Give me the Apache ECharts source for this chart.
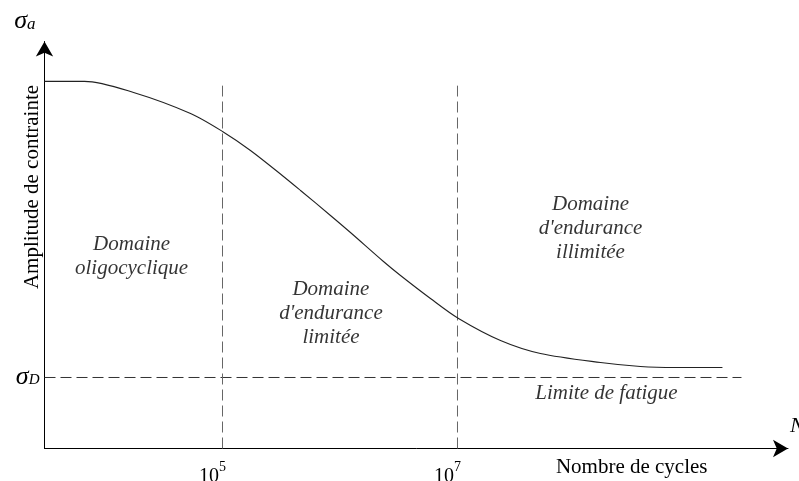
<!DOCTYPE html>
<html>
<head>
<meta charset="utf-8">
<script src="https://cdn.jsdelivr.net/npm/echarts@6/dist/echarts.min.js"></script>
<style>
  html, body { margin: 0; padding: 0; background: #fff; }
  #chart { width: 799px; height: 481px; }
</style>
</head>
<body>
<div id="chart"></div>
<script>
// Wöhler (S-N) curve: stress amplitude against log10 of the number of cycles
const logCycles = [3.485, 3.826, 4.243, 4.728, 5.0, 5.238, 5.519, 5.664, 5.919, 6.089, 6.37, 6.515, 6.77, 7.009, 7.366, 7.706, 8.217, 8.557, 8.855, 9.255];
const stressAmp = [517, 517, 501.4, 471.8, 446.5, 419.7, 383.1, 363.4, 328.2, 304.2, 263.4, 243.7, 211.3, 183.1, 152.1, 133.8, 121.1, 115.5, 114.1, 114.1];

// endurance limit σD and where its dashed line stops
const enduranceLimit = 100;
const enduranceLineEnd = 9.417;

// domain boundaries at 10^5 and 10^7 cycles, and the height they reach
const domainBounds = [5, 7];
const boundTop = 511;

// exponents shown under the N axis
const tickExponents = [5, 7];

// axis ranges
const xMin = 3.485, xMax = 9.813;
const yMin = 0, yMax = 573.2;

// domain captions and their anchor points (log N, σ)
const regionLabels = ['Domaine\noligocyclique', "Domaine\nd'endurance\nlimitée", "Domaine\nd'endurance\nillimitée", 'Limite de fatigue'];
const regionX = [4.226, 5.923, 8.132, 8.268];
const regionY = [270.4, 190, 309.9, 77.5];

const serif = "'Liberation Serif', 'Times New Roman', serif";
const ink = '#000';

const chart = echarts.init(document.getElementById('chart'), null, { renderer: 'canvas' });

const series = [
  {
    type: 'line',
    data: logCycles.map((x, i) => [x, stressAmp[i]]),
    smooth: 0.3,
    symbol: 'none',
    lineStyle: { color: '#222', width: 1.1 },
    silent: true,
    z: 5
  },
  {
    type: 'line',
    data: [[xMin, enduranceLimit], [enduranceLineEnd, enduranceLimit]],
    symbol: 'none',
    lineStyle: { color: '#333', width: 1, type: [11, 5] },
    silent: true
  }
];

domainBounds.forEach(b => {
  series.push({
    type: 'line',
    data: [[b, yMin], [b, boundTop]],
    symbol: 'none',
    lineStyle: { color: '#666', width: 1, type: [11, 5] },
    silent: true
  });
});

series.push({
  type: 'scatter',
  symbolSize: 0,
  data: regionLabels.map((t, i) => ({ name: t, value: [regionX[i], regionY[i]] })),
  label: {
    show: true,
    position: 'inside',
    formatter: p => p.name,
    fontFamily: serif,
    fontStyle: 'italic',
    fontSize: 21,
    lineHeight: 24,
    align: 'center',
    color: ink
  },
  silent: true,
  z: 10
});

// σ with an italic index set on its baseline
const sigmaRich = (key, size) => ({
  g: { fontFamily: serif, fontStyle: 'italic', fontSize: 26, color: ink, verticalAlign: 'middle', lineHeight: 26 },
  [key]: { fontFamily: serif, fontStyle: 'italic', fontSize: size, color: ink, verticalAlign: 'middle', lineHeight: 26, padding: [6, 0, 0, 0] }
});

chart.setOption({
  animation: false,
  backgroundColor: '#fff',
  grid: { left: 44.5, right: 11, top: 41.5, bottom: 32.5, containLabel: false, outerBoundsMode: 'none' },
  xAxis: [
    {
      type: 'value', min: xMin, max: xMax,
      axisLine: { show: true, symbol: ['none', 'arrow'], symbolSize: [13, 15], lineStyle: { color: '#000', width: 1 } },
      axisTick: { show: false },
      splitLine: { show: false },
      axisLabel: {
        customValues: tickExponents,
        margin: 12,
        padding: [0, 20, 0, 0],
        formatter: v => '{b|10}{s|' + v + '}',
        rich: {
          b: { fontFamily: serif, fontSize: 20, lineHeight: 26, verticalAlign: 'bottom', color: ink },
          s: { fontFamily: serif, fontSize: 14, lineHeight: 14, verticalAlign: 'top', color: ink }
        }
      },
      name: 'N', nameLocation: 'end', nameGap: 2,
      nameTextStyle: { fontFamily: serif, fontStyle: 'italic', fontSize: 22, color: ink, align: 'left', verticalAlign: 'bottom', padding: [0, 0, 11, 0] }
    },
    {
      type: 'value', min: xMin, max: xMax, position: 'bottom',
      axisLine: { show: false }, axisTick: { show: false }, axisLabel: { show: false }, splitLine: { show: false },
      name: 'Nombre de cycles', nameLocation: 'end', nameGap: -80.5,
      nameTextStyle: { fontFamily: serif, fontSize: 21, color: ink, align: 'right', verticalAlign: 'top', padding: [8, 0, 0, 0] }
    }
  ],
  yAxis: [
    {
      type: 'value', min: yMin, max: yMax,
      axisLine: { show: true, symbol: ['none', 'arrow'], symbolSize: [13, 15], lineStyle: { color: '#000', width: 1 } },
      axisTick: { show: false },
      splitLine: { show: false },
      axisLabel: {
        customValues: [enduranceLimit],
        margin: 5,
        formatter: () => '{g|σ}{d|D}',
        rich: sigmaRich('d', 15)
      },
      name: '{g|σ}{s|a}', nameLocation: 'end', nameGap: 7,
      nameTextStyle: { align: 'right', verticalAlign: 'bottom', padding: [0, 9, 0, 0], rich: sigmaRich('s', 17) }
    },
    {
      type: 'value', min: yMin, max: yMax, position: 'left',
      axisLine: { show: false }, axisTick: { show: false }, axisLabel: { show: false }, splitLine: { show: false },
      name: 'Amplitude de contrainte', nameLocation: 'middle', nameGap: 2,
      nameTextStyle: { fontFamily: serif, fontSize: 21, color: ink, padding: [0, 0, 0, 116] }
    }
  ],
  series: series
});
</script>
</body>
</html>
